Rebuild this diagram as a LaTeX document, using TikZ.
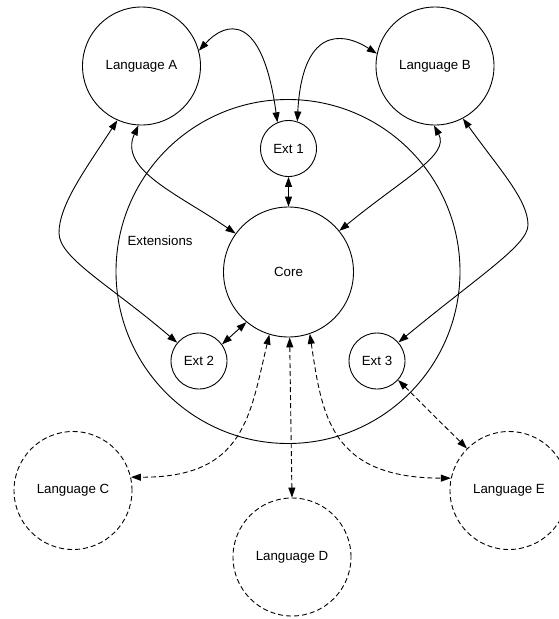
\documentclass[tikz,border=0pt]{standalone}
\usepackage{fontspec}
\setmainfont{Liberation Sans}
\usetikzlibrary{arrows.meta}
\begin{document}
\begin{tikzpicture}[x=1pt,y=-1pt,
  lang/.style={circle,draw,line width=0.9pt,minimum size=118pt,inner sep=0pt},
  dlang/.style={lang,dash pattern=on 5pt off 3pt},
  extc/.style={circle,draw,line width=0.9pt,minimum size=56pt,inner sep=0pt},
  conn/.style={line width=0.9pt,{Triangle[length=10pt,width=7pt]}-{Triangle[length=10pt,width=7pt]}},
  dconn/.style={conn,dash pattern=on 5pt off 3pt},
  font=\fontsize{13.3}{16}\selectfont]
\useasboundingbox (0,0) rectangle (559,619);
% outer extensions circle
\node[circle,draw,line width=0.9pt,minimum size=344pt,inner sep=0pt] (extall) at (288,271.5) {};
\node[anchor=west] (extlbl) at (124,241) {Extensions};
% nodes
\node[lang] (A) at (141.5,66) {Language A};
\node[lang] (B) at (435,66) {Language B};
\node[circle,draw,line width=0.9pt,minimum size=130pt,inner sep=0pt] (core) at (288.5,272) {Core};
\node[extc] (e1) at (288.5,148.5) {Ext 1};
\node[extc] (e2) at (199,361) {Ext 2};
\node[extc] (e3) at (377,361) {Ext 3};
\node[dlang] (C) at (73,490.5) {Language C};
\node[dlang] (D) at (292,557) {Language D};
\node[dlang] (E) at (509,490.5) {Language E};
% solid connectors
\draw[conn] (A.15) .. controls (225,22) and (262,10) .. (e1.113);
\draw[conn] (e1.72) .. controls (302,30) and (340,30) .. (B.168);
\draw[conn] (A.-93) .. controls (118,170) and (180,195) .. (core.144);
\draw[conn] (A.-114) .. controls (85,170) and (59,205) .. (59,233)
   .. controls (59,258) and (110,285) .. (e2.140);
\draw[conn] (B.-91) .. controls (450,155) and (405,177) .. (core.39);
\draw[conn] (B.-62) .. controls (500,170) and (528,200) .. (528,225)
   .. controls (528,245) and (480,275) .. (e3.41);
\draw[conn] (e1.south) -- (core.north);
\draw[conn] (e2.36) -- (core.-130);
% dashed connectors
\draw[dconn] (core.-107) .. controls (250,415) and (245,478) .. (C.13);
\draw[dconn] (core.-89) -- (D.north);
\draw[dconn] (core.-71) .. controls (322,415) and (330,478) .. (E.168);
\draw[dconn] (e3.-42) -- (E.135);
\end{tikzpicture}
\end{document}
